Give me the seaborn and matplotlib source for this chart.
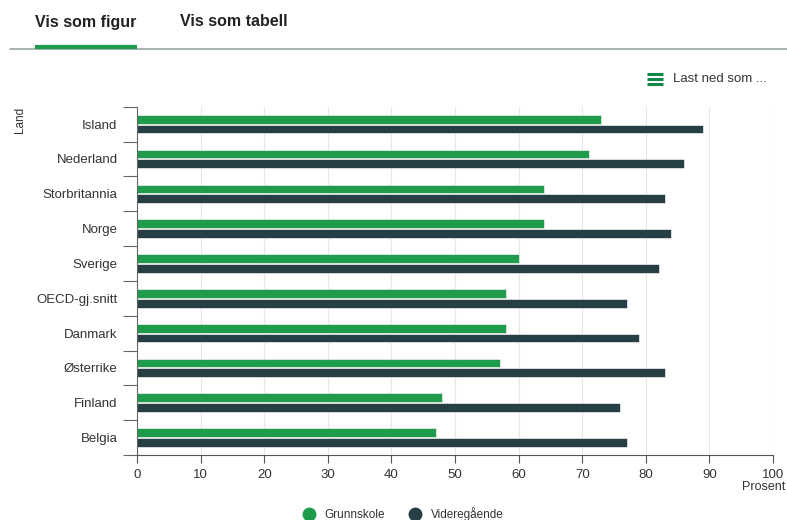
import matplotlib
matplotlib.use("Agg")
import matplotlib.pyplot as plt
from matplotlib.lines import Line2D
import seaborn as sns
import pandas as pd
import numpy as np

# ---- data ----
land = ["Island", "Nederland", "Storbritannia", "Norge", "Sverige",
        "OECD-gj.snitt", "Danmark", "Østerrike", "Finland", "Belgia"]
grunnskole = [73, 71, 64, 64, 60, 58, 58, 57, 48, 47]
videregaende = [89, 86, 83, 84, 82, 77, 79, 83, 76, 77]
series_names = ["Grunnskole", "Videregående"]
x_ticks = [0, 10, 20, 30, 40, 50, 60, 70, 80, 90, 100]

GREEN = "#1e9b4b"
DARK = "#263f45"
TEXT = "#333333"

df = pd.DataFrame({
    "Land": land * 2,
    "Prosent": grunnskole + videregaende,
    "Nivå": [series_names[0]] * len(land) + [series_names[1]] * len(land),
})

sns.set_theme(style="white")
plt.rcParams["font.family"] = ["Liberation Sans", "DejaVu Sans"]

fig = plt.figure(figsize=(7.87, 5.20), dpi=100)
ax = fig.add_axes([137/787, 1-455/520, (773-137)/787, (455-106.7)/520])

sns.barplot(data=df, y="Land", x="Prosent", hue="Nivå", orient="h",
            palette=[GREEN, DARK], saturation=1, width=0.56, gap=0.1,
            edgecolor="#f0f0f0", linewidth=0.5, legend=False, ax=ax,
            order=land, hue_order=series_names, errorbar=None)

ax.set_xlim(0, 100)
ax.set_ylim(len(land) - 0.5, -0.5)
ax.set_xticks(x_ticks)
ax.set_xticklabels([str(t) for t in x_ticks], fontsize=9.5, color=TEXT)
ax.set_yticks(range(len(land)))
ax.set_yticklabels(land)
ax.set_yticks(np.arange(len(land) + 1) - 0.5, minor=True)
ax.tick_params(axis="x", which="major", bottom=True, direction="out", length=6,
               width=0.8, color="#555555", pad=4)
ax.tick_params(axis="y", which="major", left=True, length=0, pad=14,
               labelsize=9.5, labelcolor=TEXT)
ax.tick_params(axis="y", which="minor", left=True, length=10, width=0.8,
               color="#666666", direction="out")

ax.grid(axis="x", color="#e6e6e6", linewidth=0.8)
ax.set_axisbelow(True)
for s in ["top", "right"]:
    ax.spines[s].set_visible(False)
ax.spines["left"].set_color("#666666")
ax.spines["left"].set_linewidth(0.8)
ax.spines["bottom"].set_color("#555555")
ax.spines["bottom"].set_linewidth(0.8)
ax.set_xlabel("")
ax.set_ylabel("")

# axis titles
fig.text(20/787, 1-120/520, "Land", rotation=90, fontsize=8.5, color=TEXT,
         ha="center", va="center")
fig.text(785/787, 1-487/520, "Prosent", fontsize=9, color=TEXT, ha="right", va="center")

# legend
handles = [Line2D([0], [0], marker="o", linestyle="", markersize=9,
                  markerfacecolor=c, markeredgecolor=c) for c in [GREEN, DARK]]
fig.legend(handles, series_names, loc="center", bbox_to_anchor=(400/787, 1-514/520),
           ncol=2, frameon=False, fontsize=8.5, handletextpad=0.3, columnspacing=1.6,
           labelcolor=TEXT)

# top tabs
fig.text(35/787, 1-22/520, "Vis som figur", fontsize=11.5, fontweight="bold",
         color="#222222", ha="left", va="center")
fig.text(180/787, 1-22/520, "Vis som tabell", fontsize=11.5, fontweight="bold",
         color="#222222", ha="left", va="center")
fig.add_artist(Line2D([10/787, 1], [1-48.5/520, 1-48.5/520], color="#9aa5a6", linewidth=1.2))
fig.add_artist(Line2D([35/787, 137/787], [1-47/520, 1-47/520], color=GREEN, linewidth=3,
                      solid_capstyle="butt"))

# download menu
for yy in [74, 79, 84]:
    fig.add_artist(Line2D([647/787, 663/787], [1-yy/520, 1-yy/520], color="#12874a",
                          linewidth=2.2, solid_capstyle="butt"))
fig.text(673/787, 1-79/520, "Last ned som ...", fontsize=9.5, color=TEXT,
         ha="left", va="center")

fig.savefig("out.png", dpi=100)
